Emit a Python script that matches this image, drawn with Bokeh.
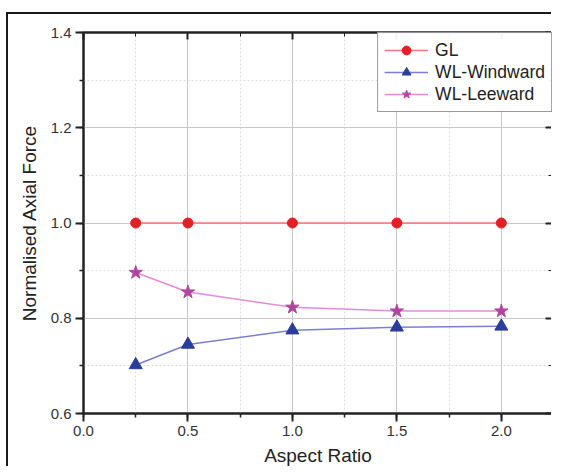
from bokeh.plotting import figure
from bokeh.models import LinearAxis, SingleIntervalTicker, Range1d, Legend, LegendItem, CustomJSTickFormatter
from bokeh.embed import file_html
from bokeh.resources import INLINE

aspect_ratio = [0.25, 0.5, 1.0, 1.5, 2.0]
gl = [1.0, 1.0, 1.0, 1.0, 1.0]
wl_windward = [0.702, 0.745, 0.775, 0.781, 0.783]
wl_leeward = [0.896, 0.855, 0.823, 0.815, 0.815]

FONT = "Liberation Sans"

p = figure(width=545, height=454, output_backend="svg", toolbar_location=None,
           x_range=Range1d(0, 2.245), y_range=Range1d(0.6, 1.4001),
           min_border_left=75, min_border_right=1, min_border_top=18, min_border_bottom=51,
           x_axis_label="Aspect Ratio", y_axis_label="Normalised Axial Force")
p.margin = (12, 0, 0, 6)
p.styles = {"border-left": "2px solid #1a1a1a", "border-top": "2px solid #1a1a1a"}

p.outline_line_color = "#222222"
p.outline_line_width = 2

xt = SingleIntervalTicker(interval=0.5, num_minor_ticks=2)
yt = SingleIntervalTicker(interval=0.2, num_minor_ticks=2)
p.xaxis.ticker = xt
p.yaxis.ticker = yt
p.xgrid.ticker = xt
p.ygrid.ticker = yt

for ax in (p.xaxis[0], p.yaxis[0]):
    ax.axis_line_color = "#222222"
    ax.axis_line_width = 2
    ax.major_tick_line_color = "#222222"
    ax.major_tick_line_width = 2
    ax.minor_tick_line_color = "#222222"
    ax.minor_tick_line_width = 1.5
    ax.major_tick_out = 8
    ax.major_tick_in = 0
    ax.minor_tick_out = 4
    ax.minor_tick_in = 0
    ax.major_label_text_font = FONT
    ax.major_label_text_font_size = "15px"
    ax.major_label_text_color = "#333333"
    ax.axis_label_text_font = FONT
    ax.axis_label_text_font_size = "19px"
    ax.axis_label_text_font_style = "normal"
    ax.axis_label_text_color = "#222222"
    ax.formatter = CustomJSTickFormatter(code="return tick.toFixed(1);")
p.xaxis.major_label_standoff = 4
p.xaxis.axis_label_standoff = 6
p.yaxis.major_label_standoff = 4
p.yaxis.axis_label_standoff = 8

for loc, ticker in (("above", xt), ("right", yt)):
    ax = LinearAxis(ticker=ticker)
    ax.major_label_text_font_size = "0px"
    ax.major_label_text_color = None
    ax.axis_line_color = "#222222"
    ax.axis_line_width = 2
    ax.major_tick_line_color = "#222222"
    ax.major_tick_line_width = 2
    ax.minor_tick_line_color = "#222222"
    ax.major_tick_in = 7
    ax.major_tick_out = 0
    ax.minor_tick_in = 4
    ax.minor_tick_out = 0
    ax.major_label_standoff = 0
    p.add_layout(ax, loc)

for g in (p.xgrid[0], p.ygrid[0]):
    g.grid_line_color = "#c8c8c8"
    g.grid_line_width = 1
    g.minor_grid_line_color = "#dddddd"
    g.minor_grid_line_dash = "2 2"

l1 = p.line(aspect_ratio, gl, line_color="#f07878", line_width=1.5)
m1 = p.scatter(aspect_ratio, gl, marker="circle", size=10, fill_color="#e41e26", line_color="#e41e26")
l2 = p.line(aspect_ratio, wl_windward, line_color="#7a7fd4", line_width=1.5)
m2 = p.scatter(aspect_ratio, wl_windward, marker="triangle", size=13, fill_color="#2b3d9b", line_color="#2b3d9b")
l3 = p.line(aspect_ratio, wl_leeward, line_color="#e58ad8", line_width=1.5)
m3 = p.scatter(aspect_ratio, wl_leeward, marker="star", size=14, fill_color="#b0449e", line_color="#b0449e")

legend = Legend(items=[LegendItem(label="GL", renderers=[l1, m1]),
                       LegendItem(label="WL-Windward", renderers=[l2, m2]),
                       LegendItem(label="WL-Leeward", renderers=[l3, m3])],
                location="top_right")
legend.label_text_font = FONT
legend.label_text_font_size = "17.5px"
legend.label_text_color = "#222222"
legend.border_line_color = "#333333"
legend.border_line_width = 1
legend.margin = 0
legend.padding = 6
legend.spacing = 0
legend.glyph_width = 44
legend.glyph_height = 22
legend.label_height = 22
legend.label_standoff = 7
p.add_layout(legend)

open("out.html", "w").write(file_html(p, INLINE))
